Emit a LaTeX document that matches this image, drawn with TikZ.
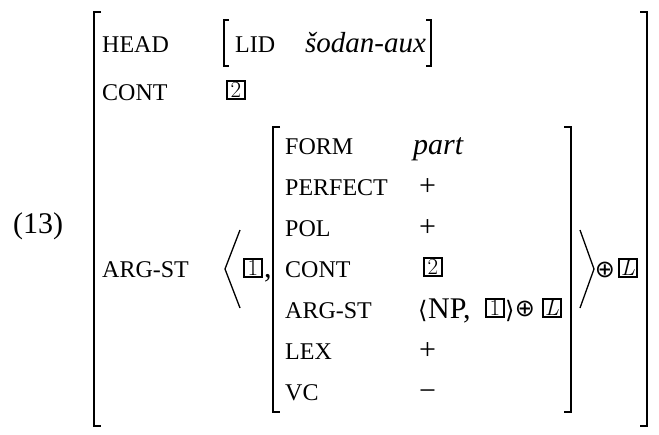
\documentclass[tikz,border=0pt]{standalone}
\usepackage{fontspec}
\setmainfont{Liberation Serif}
\newfontfamily\symfont{DejaVu Sans}
\newfontfamily\tagfont{Latin Modern Roman}
\tikzset{
  attr/.style={anchor=base west, inner sep=0pt, font=\fontsize{24}{24}\selectfont},
  val/.style={anchor=base west, inner sep=0pt, font=\fontsize{30}{30}\selectfont},
  sym/.style={anchor=center, inner sep=0pt, font=\symfont\fontsize{24}{24}\selectfont},
  tagbox/.style={draw, line width=2.3pt, inner sep=0pt, minimum width=18pt, minimum height=18pt, anchor=center, font=\tagfont\fontsize{23}{23}\selectfont},
  brk/.style={line width=1.2pt},
  ang/.style={line width=1.3pt},
}
\begin{document}
\begin{tikzpicture}[x=1pt,y=-1pt]
\useasboundingbox (0,0) rectangle (659,434);
% example number
\node[val] (num) at (13,233) {(13)};
% outer brackets
\draw[brk] (101,12) -- (94,12) -- (94,426) -- (101,426);
\draw[brk] (640,12) -- (647,12) -- (647,426) -- (640,426);
% HEAD row
\node[attr] (head) at (102,52) {HEAD};
\draw[brk] (229,20) -- (224,20) -- (224,66) -- (229,66);
\node[attr] (lid) at (235,52) {LID};
\node[val, font=\fontsize{29}{29}\selectfont\itshape] (lidv) at (305,52) {šodan-aux};
\draw[brk] (426,20) -- (431,20) -- (431,66) -- (426,66);
% CONT row
\node[attr] (cont) at (102,100) {CONT};
\node[tagbox] (t2a) at (236,90) {2};
% ARG-ST row
\node[attr] (argst) at (102,277) {ARG-ST};
\draw[ang] (240,230) -- (225,269) -- (240,308);
\node[tagbox] (t1a) at (253,268) {1};
\node[val] (comma) at (264,277) {,};
% inner brackets
\draw[brk] (280,127) -- (273,127) -- (273,412) -- (280,412);
\draw[brk] (564,127) -- (571,127) -- (571,412) -- (564,412);
% inner rows
\node[attr] (form) at (285,154) {FORM};
\node[val] (formv) at (413,154) {\itshape part};
\node[attr] (perf) at (285,195) {PERFECT};
\node[val] (perfv) at (419,195) {+};
\node[attr] (pol) at (285,236) {POL};
\node[val] (polv) at (419,236) {+};
\node[attr] (icont) at (285,277) {CONT};
\node[tagbox] (t2b) at (433,267) {2};
\node[attr] (iarg) at (285,318) {ARG-ST};
\node[anchor=base west, inner sep=0pt, font=\symfont\fontsize{24}{24}\selectfont] (lang) at (418,318) {⟨};
\node[val] (np) at (428,318) {NP,};
\node[tagbox] (t1b) at (495,308) {1};
\node[anchor=base west, inner sep=0pt, font=\symfont\fontsize{24}{24}\selectfont] (rang) at (505,318) {⟩};
\node[sym] (op1) at (525,309) {⊕};
\node[tagbox] (l1) at (552,308) {\itshape L};
\node[attr] (lex) at (285,359) {LEX};
\node[val] (lexv) at (419,359) {+};
\node[attr] (vc) at (285,400) {VC};
\node[val] (vcv) at (419,400) {−};
% closing angle and append
\draw[ang] (580,230) -- (594,269) -- (580,308);
\node[sym] (op2) at (605,270) {⊕};
\node[tagbox] (l2) at (628,268) {\itshape L};
\end{tikzpicture}
\end{document}
